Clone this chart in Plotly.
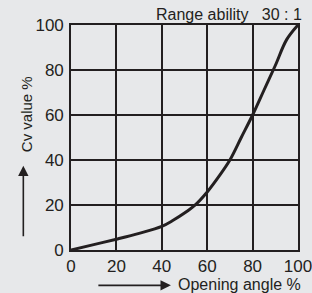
import plotly.graph_objects as go

opening = [0, 10, 20, 30, 40, 45, 50, 55, 60, 65, 70, 75, 80, 85, 90, 95, 100]
cv_value = [0, 2.4, 4.8, 7.4, 10.5, 13.2, 16.4, 20.3, 25.8, 32.5, 40, 50, 60, 71, 82, 93.5, 100]
tick_vals = [0, 20, 40, 60, 80, 100]
tick_text = ["0", "20", "40", "60", "80", "100"]

BG = "#e7e8ea"
INK = "#231f20"
FONT = "Liberation Sans, Arial, sans-serif"

fig = go.Figure()
fig.add_trace(go.Scatter(x=opening, y=cv_value, mode="lines",
                         line=dict(color=INK, width=3, shape="spline", smoothing=1.0),
                         hoverinfo="skip", showlegend=False, cliponaxis=False))

axis_common = dict(range=[0, 100], tickvals=tick_vals, ticktext=tick_text,
                   showgrid=True, gridcolor=INK, gridwidth=1.6,
                   showline=True, linecolor=INK, linewidth=1.6, mirror=True,
                   zeroline=False, ticks="", ticklabeloverflow="allow", automargin=False,
                   tickfont=dict(family=FONT, size=17, color=INK))

fig.update_xaxes(**axis_common, ticklabelstandoff=0)
fig.update_yaxes(**axis_common, ticklabelstandoff=2)

fig.update_layout(
    width=312, height=293,
    margin=dict(l=71, r=14, t=25, b=43, autoexpand=False),
    paper_bgcolor=BG, plot_bgcolor=BG,
    font=dict(family=FONT, color=INK),
    annotations=[
        dict(text="Range ability\u00a0\u00a0\u00a030 : 1", x=1.028, y=1.0, xref="paper", yref="paper",
             xanchor="right", yanchor="bottom", yshift=0, showarrow=False,
             font=dict(size=16, color=INK, family=FONT)),
        dict(text="Cv value %", x=-0.198, y=0.604, xref="paper", yref="paper",
             xanchor="center", yanchor="middle", textangle=-90, showarrow=False,
             font=dict(size=15, color=INK, family=FONT)),
        dict(text="Opening angle %", x=1.02, y=-0.152, xref="paper", yref="paper",
             xanchor="right", yanchor="middle", showarrow=False,
             font=dict(size=16, color=INK, family=FONT)),
        dict(text="", x=-0.21, y=0.375, xref="paper", yref="paper",
             ax=0, ay=72, axref="pixel", ayref="pixel", showarrow=True,
             arrowhead=2, arrowsize=1.3, arrowwidth=1.6, arrowcolor=INK),
        dict(text="", x=0.44, y=-0.157, xref="paper", yref="paper",
             ax=-74, ay=0, axref="pixel", ayref="pixel", showarrow=True,
             arrowhead=2, arrowsize=1.3, arrowwidth=1.6, arrowcolor=INK),
    ],
)

fig.write_html("out.html", config={"displayModeBar": False},
               post_script="document.body.style.margin='0';document.body.style.background='%s';" % BG)
